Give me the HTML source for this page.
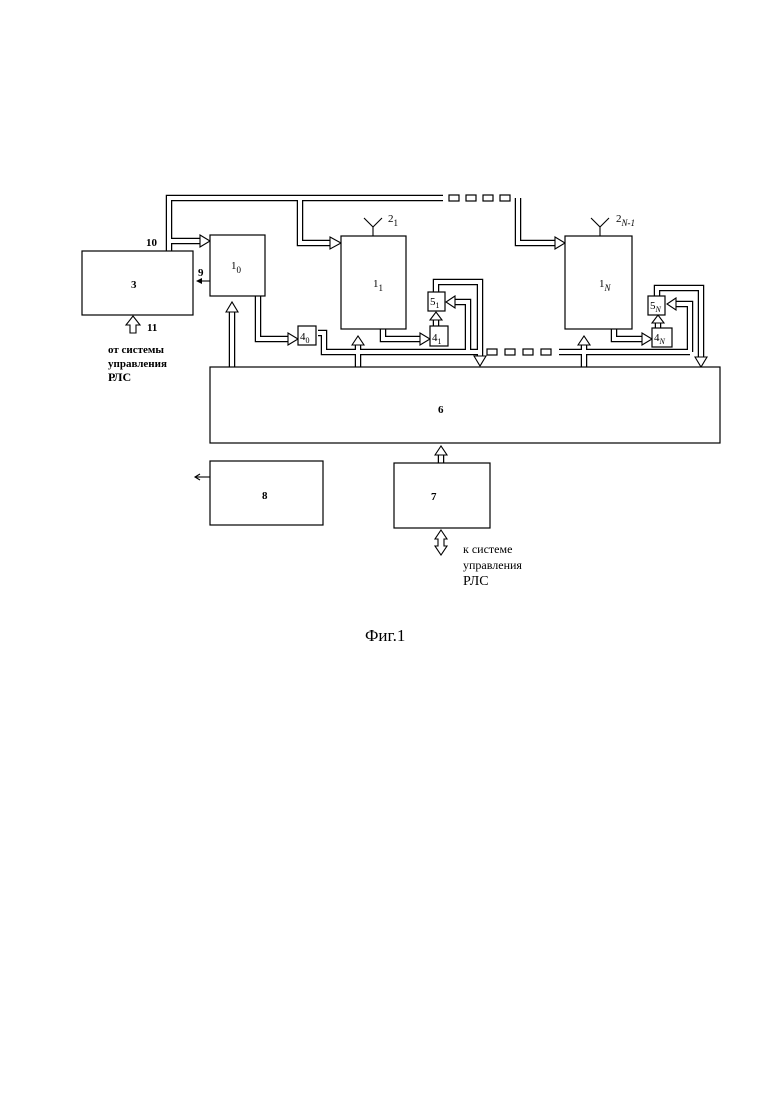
<!DOCTYPE html>
<html><head><meta charset="utf-8"><style>
body{margin:0;background:#fff}
svg{display:block}
text{font-family:"Liberation Serif",serif;fill:#000}
.b{fill:#fff;stroke:#000;stroke-width:1.2}
.po{fill:none;stroke:#000;stroke-width:6.5;stroke-linejoin:miter}
.pi{fill:none;stroke:#fff;stroke-width:4;stroke-linejoin:miter}
.ah{fill:#fff;stroke:#000;stroke-width:1.1}
.l{stroke:#000;stroke-width:1.1;fill:none}
</style></head><body>
<svg width="780" height="1103" viewBox="0 0 780 1103">
<g class="po">
<path d="M169 251 V198 H443"/>
<path d="M169 241 H200"/>
<path d="M300 198 V243 H330"/>
<path d="M518 198 V243 H555"/>
<path d="M258 296 V339 H288"/>
<path d="M383 329 V339 H420"/>
<path d="M614 329 V339 H642"/>
<path d="M318 333 H324 V352 H481"/>
<path d="M559 352 H690"/>
<path d="M232 367 V312"/>
<path d="M358 367 V345"/>
<path d="M584 367 V345"/>
<path d="M436 326 V320"/>
<path d="M658 328 V323"/>
<path d="M436 292 V282 H480 V356"/>
<path d="M468 352 V302 H455"/>
<path d="M657 296 V288 H701 V357"/>
<path d="M690 352 V304 H676"/>
<path d="M441 463 V455"/>
</g>
<g class="pi">
<path d="M169 251 V198 H443"/>
<path d="M169 241 H200"/>
<path d="M300 198 V243 H330"/>
<path d="M518 198 V243 H555"/>
<path d="M258 296 V339 H288"/>
<path d="M383 329 V339 H420"/>
<path d="M614 329 V339 H642"/>
<path d="M318 333 H324 V352 H481"/>
<path d="M559 352 H690"/>
<path d="M232 367 V312"/>
<path d="M358 367 V345"/>
<path d="M584 367 V345"/>
<path d="M436 326 V320"/>
<path d="M658 328 V323"/>
<path d="M436 292 V282 H480 V356"/>
<path d="M468 352 V302 H455"/>
<path d="M657 296 V288 H701 V357"/>
<path d="M690 352 V304 H676"/>
<path d="M441 463 V455"/>
</g>
<g class="b"><rect x="449" y="195" width="10" height="6"/><rect x="466" y="195" width="10" height="6"/><rect x="483" y="195" width="10" height="6"/><rect x="500" y="195" width="10" height="6"/>
<rect x="487" y="349" width="10" height="6"/><rect x="505" y="349" width="10" height="6"/><rect x="523" y="349" width="10" height="6"/><rect x="541" y="349" width="10" height="6"/></g>
<g class="ah">
<path d="M200 235 L210 241 L200 247Z"/>
<path d="M330 237 L341 243 L330 249Z"/>
<path d="M555 237 L565 243 L555 249Z"/>
<path d="M288 333 L298 339 L288 345Z"/>
<path d="M420 333 L430 339 L420 345Z"/>
<path d="M642 333 L652 339 L642 345Z"/>
<path d="M226 312 L232 302 L238 312Z"/>
<path d="M352 345 L358 336 L364 345Z"/>
<path d="M578 345 L584 336 L590 345Z"/>
<path d="M430 320 L436 312 L442 320Z"/>
<path d="M652 323 L658 315 L664 323Z"/>
<path d="M455 296 L446 302 L455 308Z"/>
<path d="M676 298 L667 304 L676 310Z"/>
<path d="M474 356 L480 366 L486 356Z"/>
<path d="M695 357 L701 367 L707 357Z"/>
<path d="M435 455 L441 446 L447 455Z"/>
<path d="M441 530 L447 539 H444 V546 H447 L441 555 L435 546 H438 V539 H435Z"/>
</g>
<path class="ah" d="M130 333 V325 H126 L133 316 L140 325 H136 V333Z"/>
<rect class="b" x="82" y="251" width="111" height="64"/>
<rect class="b" x="210" y="235" width="55" height="61"/>
<rect class="b" x="341" y="236" width="65" height="93"/>
<rect class="b" x="565" y="236" width="67" height="93"/>
<rect class="b" x="298" y="326" width="18" height="19"/>
<rect class="b" x="430" y="326" width="18" height="20"/>
<rect class="b" x="428" y="292" width="17" height="19"/>
<rect class="b" x="648" y="296" width="17" height="19"/>
<rect class="b" x="652" y="328" width="20" height="19"/>
<rect class="b" x="210" y="367" width="510" height="76"/>
<rect class="b" x="210" y="461" width="113" height="64"/>
<rect class="b" x="394" y="463" width="96" height="65"/>
<path class="l" d="M373 236 V227 L364 218 M373 227 L382 218"/>
<path class="l" d="M600 236 V227 L591 218 M600 227 L609 218"/>
<path class="l" d="M210 281 H198"/><path d="M196 281 L202 278 L202 284Z"/>
<path class="l" d="M210 477 H196"/><path class="l" d="M200 474 L195 477 L200 480"/>
<g font-size="11" font-weight="bold">
<text x="131" y="288">3</text>
<text x="146" y="246">10</text>
<text x="198" y="276">9</text>
<text x="147" y="331">11</text>
<text x="438" y="413">6</text>
<text x="262" y="499">8</text>
<text x="431" y="500">7</text>
</g>
<g font-size="11" font-weight="bold">
<text x="108" y="353">от системы</text>
<text x="108" y="367">управления</text>
<text x="108" y="381" font-size="12">РЛС</text>
</g>
<g font-size="12">
<text x="463" y="553">к системе</text>
<text x="463" y="569">управления</text>
<text x="463" y="585" font-size="14">РЛС</text>
</g>
<g font-size="11">
<text x="231" y="269">1<tspan font-size="9" dy="4">0</tspan></text>
<text x="373" y="287">1<tspan font-size="9" dy="4">1</tspan></text>
<text x="599" y="287">1<tspan font-size="9" dy="4" font-style="italic">N</tspan></text>
<text x="388" y="222">2<tspan font-size="9" dy="4">1</tspan></text>
<text x="616" y="222">2<tspan font-size="9" dy="4" font-style="italic">N-1</tspan></text>
<text x="300" y="340">4<tspan font-size="8" dy="3">0</tspan></text>
<text x="432" y="341">4<tspan font-size="8" dy="3">1</tspan></text>
<text x="430" y="305">5<tspan font-size="8" dy="3">1</tspan></text>
<text x="650" y="309">5<tspan font-size="8" dy="3" font-style="italic">N</tspan></text>
<text x="654" y="341">4<tspan font-size="8" dy="3" font-style="italic">N</tspan></text>
</g>
<text x="365" y="641" font-size="17">Фиг.1</text>
</svg>
</body></html>
